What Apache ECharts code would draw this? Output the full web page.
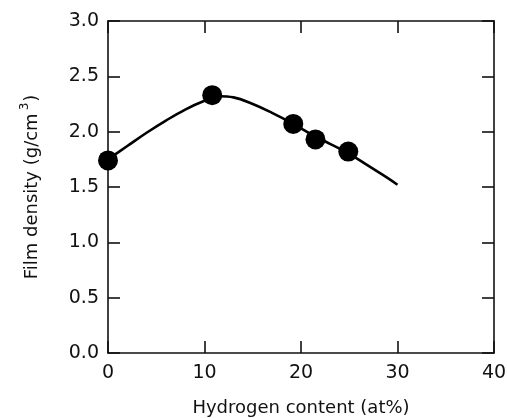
<!DOCTYPE html>
<html style="height: 100%">
<head>
    <meta charset="utf-8">
</head>
<body style="height: 100%; margin: 0; background: #fff">
    <div id="container" style="width: 507px; height: 418px"></div>
    <script type="text/javascript" src="https://cdn.jsdelivr.net/npm/echarts@6/dist/echarts.min.js"></script>
    <script type="text/javascript">
        // measured points
        var hydrogen = [0, 10.8, 19.2, 21.5, 24.9];
        var density = [1.74, 2.33, 2.07, 1.93, 1.82];

        // hand-drawn fit curve
        var curveX = [0, 2, 4, 6, 8, 10, 11.5, 13, 15, 17, 19, 21, 23, 25, 27, 29, 30];
        var curveY = [1.75, 1.87, 1.99, 2.10, 2.20, 2.28, 2.32, 2.31, 2.25, 2.17, 2.08, 1.98, 1.89, 1.80, 1.69, 1.58, 1.52];

        var xTicks = [0, 10, 20, 30, 40];
        var yTicks = [0, 0.5, 1, 1.5, 2, 2.5, 3];

        var ink = '#111';
        var font = 'DejaVu Sans';

        var dom = document.getElementById('container');
        var myChart = echarts.init(dom);

        function axisBase(showLabel) {
            return {
                type: 'value',
                axisLine: { show: true, onZero: false, lineStyle: { color: ink, width: 1.6 } },
                axisTick: { show: true, inside: true, length: 12, lineStyle: { color: ink, width: 1.6 } },
                splitLine: { show: false },
                axisLabel: { show: showLabel, color: ink, fontSize: 19, fontFamily: font }
            };
        }

        var xBottom = axisBase(true);
        xBottom.min = 0; xBottom.max = 40; xBottom.interval = 10;
        xBottom.position = 'bottom';
        xBottom.axisLabel.margin = 11;
        xBottom.axisLabel.formatter = function (v) { return xTicks.indexOf(v) >= 0 ? String(v) : ''; };
        xBottom.name = 'Hydrogen content (at%)';
        xBottom.nameLocation = 'middle';
        xBottom.nameGap = 46;
        xBottom.nameTextStyle = { color: ink, fontSize: 18, fontFamily: font };

        var xTop = axisBase(false);
        xTop.min = 0; xTop.max = 40; xTop.interval = 10;
        xTop.position = 'top';

        var yLeft = axisBase(true);
        yLeft.min = 0; yLeft.max = 3; yLeft.interval = 0.5;
        yLeft.position = 'left';
        yLeft.axisLabel.margin = 9;
        yLeft.axisLabel.formatter = function (v) { return yTicks.indexOf(v) >= 0 ? v.toFixed(1) : ''; };
        yLeft.name = '{a|Film density (g/cm}{s|3}{a|)}';
        yLeft.nameLocation = 'middle';
        yLeft.nameGap = 63;
        yLeft.nameTextStyle = {
            rich: {
                a: { color: ink, fontSize: 18, fontFamily: font },
                s: { color: ink, fontSize: 12, fontFamily: font, verticalAlign: 'top', padding: [0, 1, 14, 3] }
            }
        };

        var yRight = axisBase(false);
        yRight.min = 0; yRight.max = 3; yRight.interval = 0.5;
        yRight.position = 'right';

        var option = {
            backgroundColor: '#ffffff',
            animation: false,
            grid: { left: 108, right: 13, top: 21, bottom: 65, outerBoundsMode: 'none', containLabel: false },
            xAxis: [xBottom, xTop],
            yAxis: [yLeft, yRight],
            series: [
                {
                    type: 'line',
                    smooth: 0.4,
                    showSymbol: false,
                    data: curveX.map(function (x, i) { return [x, curveY[i]]; }),
                    lineStyle: { color: '#000', width: 2.6 },
                    z: 2
                },
                {
                    type: 'scatter',
                    symbol: 'circle',
                    symbolSize: 20,
                    data: hydrogen.map(function (x, i) { return [x, density[i]]; }),
                    itemStyle: { color: '#000', opacity: 1 },
                    z: 3
                }
            ]
        };

        myChart.setOption(option, true);
    </script>
</body>
</html>
